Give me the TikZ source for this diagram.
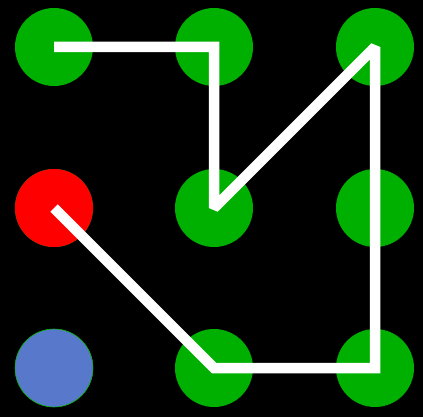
\documentclass[tikz,border=0pt]{standalone}
\definecolor{puntoverde}{RGB}{0,176,0}
\definecolor{puntorojo}{RGB}{255,0,0}
\definecolor{puntoazul}{RGB}{88,120,204}
\begin{document}
\begin{tikzpicture}[x=1pt,y=-1pt,
    punto/.style={circle,fill=puntoverde,minimum size=78pt,inner sep=0pt}]
    \fill[black] (0,0) rectangle (423,417);
    \foreach \i/\x in {0/54,1/214,2/375} {
        \foreach \j/\y in {0/47,1/208,2/368} {
            \node[punto] (p\i\j) at (\x,\y) {};
        }
    }
    % Punto inicial y punto final del trazo.
    \node[punto,fill=puntorojo] (p01) at (54,208) {};
    \node[punto,fill=puntoazul,draw=puntoverde,line width=0.6pt] (p02) at (54,368) {};
    \draw[white,line width=10.5pt,miter limit=2]
        (p00.center) -- (p10.center) -- (p11.center) -- (p20.center)
        -- (p22.center) -- (p12.center) -- (p01.center);
\end{tikzpicture}
\end{document}
